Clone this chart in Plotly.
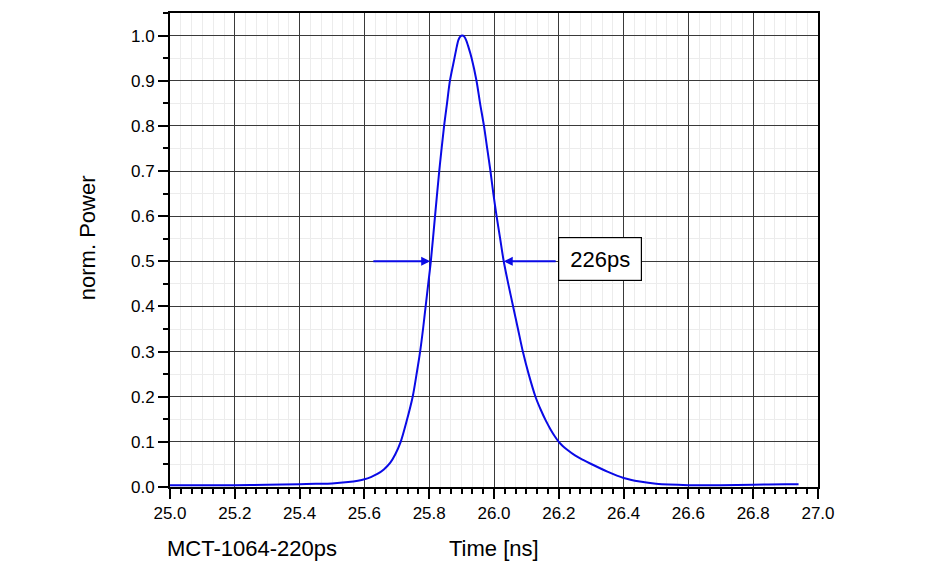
import plotly.graph_objects as go

# -------------------------------------------------------------
# Données (impulsion normalisée)
# -------------------------------------------------------------
time_ns = [
    25.00, 25.10, 25.20, 25.30, 25.40, 25.45, 25.50, 25.55, 25.58, 25.60,
    25.62, 25.64, 25.66, 25.68, 25.695, 25.712, 25.73, 25.749, 25.761, 25.772,
    25.781, 25.789, 25.797, 25.805, 25.818, 25.831, 25.846, 25.855, 25.864, 25.878,
    25.885, 25.890, 25.896, 25.902, 25.908, 25.914, 25.921, 25.931, 25.946, 25.957,
    25.969, 25.979, 25.989, 25.998, 26.008, 26.019, 26.030, 26.044, 26.059, 26.074,
    26.089, 26.107, 26.128, 26.145, 26.160, 26.175, 26.188, 26.200, 26.212, 26.225,
    26.250, 26.275, 26.300, 26.350, 26.400, 26.450, 26.500, 26.600, 26.700, 26.800,
    26.900, 26.940,
]
power_norm = [
    0.004, 0.004, 0.004, 0.005, 0.006, 0.007, 0.008, 0.011, 0.014, 0.017,
    0.022, 0.029, 0.039, 0.054, 0.072, 0.100, 0.145, 0.200, 0.250, 0.300,
    0.350, 0.400, 0.450, 0.500, 0.600, 0.700, 0.800, 0.850, 0.900, 0.950,
    0.975, 0.990, 0.998, 1.000, 0.998, 0.990, 0.975, 0.950, 0.900, 0.850,
    0.800, 0.750, 0.700, 0.650, 0.600, 0.550, 0.500, 0.450, 0.400, 0.350,
    0.300, 0.250, 0.200, 0.170, 0.147, 0.127, 0.112, 0.100, 0.091, 0.083,
    0.070, 0.060, 0.051, 0.034, 0.020, 0.012, 0.007, 0.004, 0.004, 0.005,
    0.006, 0.006,
]

# largeur à mi-hauteur
fwhm_left = 25.803
fwhm_right = 26.030
half_level = 0.5
fwhm_label = "226ps"

x_ticks = [25.0, 25.2, 25.4, 25.6, 25.8, 26.0, 26.2, 26.4, 26.6, 26.8, 27.0]
y_ticks = [0.0, 0.1, 0.2, 0.3, 0.4, 0.5, 0.6, 0.7, 0.8, 0.9, 1.0]

FONT = "Arial, Liberation Sans, sans-serif"
BLUE = "#0a0ae6"

fig = go.Figure()

fig.add_trace(go.Scatter(
    x=time_ns, y=power_norm,
    mode="lines",
    line=dict(color=BLUE, width=2, shape="spline", smoothing=0.8),
    hoverinfo="x+y",
    showlegend=False,
))

# flèches FWHM
fig.add_annotation(
    x=fwhm_left, y=half_level, ax=25.623, ay=half_level,
    xref="x", yref="y", axref="x", ayref="y",
    text="", showarrow=True, arrowhead=2, arrowsize=0.9,
    arrowwidth=2, arrowcolor=BLUE, standoff=0,
)
fig.add_annotation(
    x=fwhm_right, y=half_level, ax=26.195, ay=half_level,
    xref="x", yref="y", axref="x", ayref="y",
    text="", showarrow=True, arrowhead=2, arrowsize=0.9,
    arrowwidth=2, arrowcolor=BLUE, standoff=0,
)
fig.add_annotation(
    x=26.326, y=0.504, xref="x", yref="y",
    text=fwhm_label, showarrow=False,
    font=dict(family=FONT, size=22, color="black"),
    bgcolor="white", bordercolor="black", borderwidth=1.2,
    borderpad=8, width=66, height=26,
)

# textes sous le graphe
fig.add_annotation(
    x=-0.008, y=-0.130, xref="paper", yref="paper",
    text="MCT-1064-220ps", showarrow=False, xanchor="left", yanchor="middle",
    font=dict(family=FONT, size=22, color="black"),
)
fig.add_annotation(
    x=0.5, y=-0.130, xref="paper", yref="paper",
    text="Time [ns]", showarrow=False, xanchor="center", yanchor="middle",
    font=dict(family=FONT, size=22, color="black"),
)
fig.add_annotation(
    x=-0.128, y=0.525, xref="paper", yref="paper",
    text="norm. Power", showarrow=False, textangle=-90,
    xanchor="center", yanchor="middle",
    font=dict(family=FONT, size=22, color="black"),
)

fig.update_xaxes(
    range=[25.0, 27.0],
    tickvals=x_ticks, ticktext=[f"{v:.1f}" for v in x_ticks],
    ticks="outside", ticklen=10, tickwidth=2, tickcolor="black",
    showline=True, linecolor="black", linewidth=2, mirror=True,
    showgrid=True, gridcolor="#3a3a3a", gridwidth=1,
    zeroline=False,
    minor=dict(tick0=25.0, dtick=0.2 / 6, ticks="outside", ticklen=5,
               tickwidth=1.5, tickcolor="black",
               showgrid=True, gridcolor="#ececec", gridwidth=1),
    tickfont=dict(family=FONT, size=17, color="black"),
)
fig.update_yaxes(
    range=[0.0, 1.05],
    tickvals=y_ticks, ticktext=[f"{v:.1f}" for v in y_ticks],
    ticks="outside", ticklen=10, tickwidth=2, tickcolor="black",
    showline=True, linecolor="black", linewidth=2, mirror=True,
    showgrid=True, gridcolor="#3a3a3a", gridwidth=1,
    zeroline=False,
    minor=dict(tick0=0.0, dtick=0.05, ticks="outside", ticklen=5,
               tickwidth=1.5, tickcolor="black",
               showgrid=True, gridcolor="#ececec", gridwidth=1),
    tickfont=dict(family=FONT, size=17, color="black"),
)

# la page ajoute ~8 px de marge autour du graphe : on compense
fig.update_layout(
    width=950, height=569,
    margin=dict(l=162, r=140, t=3, b=90),
    paper_bgcolor="white", plot_bgcolor="white",
    hovermode="closest",
)

fig.write_html("out.html")
